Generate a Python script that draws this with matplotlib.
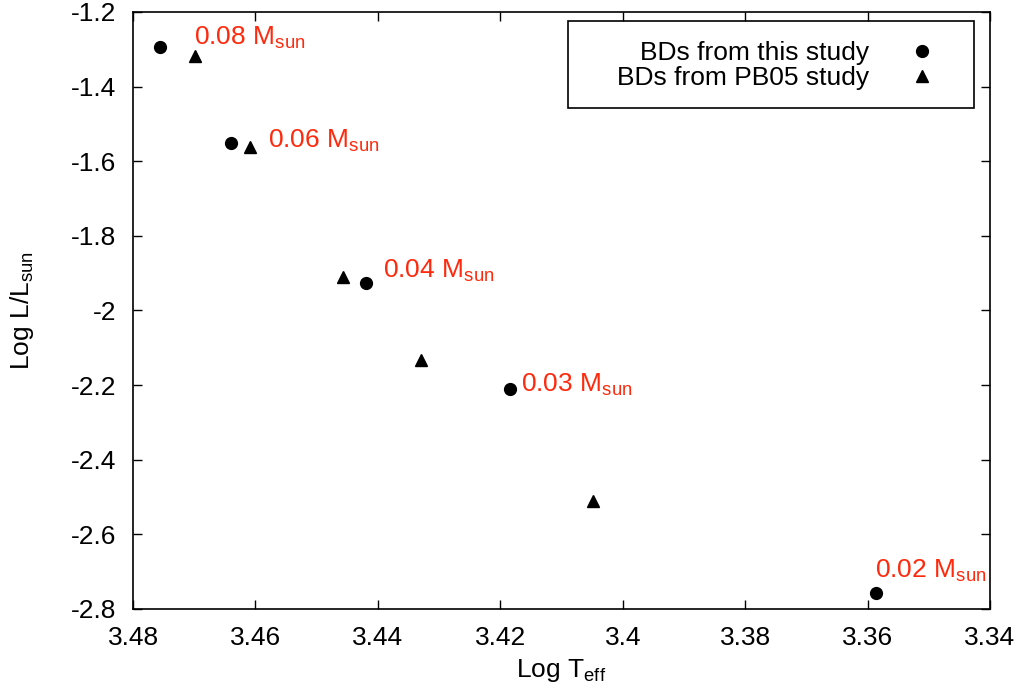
import matplotlib

matplotlib.use("Agg")
import matplotlib.pyplot as plt
from matplotlib.patches import Rectangle

plt.rcParams["font.family"] = ["Liberation Sans", "DejaVu Sans"]
plt.rcParams["mathtext.fontset"] = "custom"
plt.rcParams["mathtext.rm"] = "Liberation Sans"
plt.rcParams["mathtext.it"] = "Liberation Sans"
plt.rcParams["mathtext.default"] = "regular"

# brown dwarfs from this study
this_teff = [3.4756, 3.4640, 3.4419, 3.4184, 3.3586]
this_lum = [-1.294, -1.550, -1.926, -2.211, -2.758]
mass_labels = ["0.08", "0.06", "0.04", "0.03", "0.02"]

# brown dwarfs from PB05
pb05_teff = [3.4699, 3.4609, 3.4457, 3.4329, 3.4048]
pb05_lum = [-1.318, -1.562, -1.910, -2.133, -2.511]

x_ticks = [3.48, 3.46, 3.44, 3.42, 3.40, 3.38, 3.36, 3.34]
x_tick_labels = ["3.48", "3.46", "3.44", "3.42", "3.4", "3.38", "3.36", "3.34"]
y_ticks = [-1.2, -1.4, -1.6, -1.8, -2.0, -2.2, -2.4, -2.6, -2.8]
y_tick_labels = ["-1.2", "-1.4", "-1.6", "-1.8", "-2", "-2.2", "-2.4", "-2.6", "-2.8"]

FS = 19
RED = "#ff2a0d"

fig = plt.figure(figsize=(10.29, 6.96), dpi=100)
ax = fig.add_axes([0.1293, 0.125, 0.8328, 0.8578])

h1, = ax.plot(this_teff, this_lum, "o", color="black", ms=8.5, ls="none",
              label="BDs from this study")
h2, = ax.plot(pb05_teff, pb05_lum, "^", color="black", ms=8, ls="none",
              label="BDs from PB05 study")

# label offsets in points (dx, dy) relative to each circle
offsets = [(24.5, 1.5), (26.5, -4), (12, 3.5), (8, -2), (-0.5, 11.5)]
for x, y, m, (dx, dy) in zip(this_teff, this_lum, mass_labels, offsets):
    ax.annotate(f"{m} M$_{{sun}}$", (x, y), xytext=(dx, dy),
                textcoords="offset points", ha="left", va="baseline",
                color=RED, fontsize=FS)

ax.set_xlim(3.48, 3.34)
ax.set_ylim(-2.8, -1.2)
ax.set_xticks(x_ticks)
ax.set_xticklabels(x_tick_labels)
ax.set_yticks(y_ticks)
ax.set_yticklabels(y_tick_labels)
ax.tick_params(direction="in", length=6.5, width=1.0, labelsize=FS,
               top=True, right=True, pad=12)
for s in ax.spines.values():
    s.set_linewidth(1.2)

ax.set_xlabel("Log T$_{eff}$", fontsize=FS)
ax.set_ylabel("Log L/L$_{sun}$", fontsize=FS)
ax.xaxis.set_label_coords(0.5, -0.08)
ax.yaxis.set_label_coords(-0.113, 0.5)

# legend frame drawn separately (gnuplot-style key)
ax.add_patch(Rectangle((0.5076, 0.8392), 0.4737, 0.1457, transform=ax.transAxes,
                       fill=False, edgecolor="black", linewidth=1.2, zorder=3))
ax.legend(handles=[h1, h2], loc="center right", bbox_to_anchor=(0.9358, 0.910),
          frameon=False, markerfirst=False, fontsize=FS, handlelength=1.0,
          handletextpad=1.5, borderpad=0, borderaxespad=0, labelspacing=0.02)

fig.savefig("out.png", dpi=100)
